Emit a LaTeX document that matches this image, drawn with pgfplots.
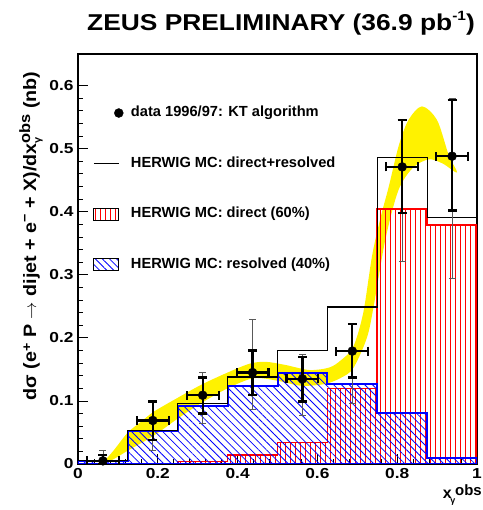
\documentclass[border=0pt]{standalone}
\usepackage{fontspec}
\setmainfont{Liberation Sans}
\newfontfamily\tickf{Liberation Sans}[FakeStretch=1.2]
\newfontfamily\titlef{Liberation Sans}[FakeStretch=1.15]
\newfontfamily\ylabf{Liberation Sans}[FakeStretch=1.1]
\usepackage{pgfplots}
\pgfplotsset{compat=1.18}
\usetikzlibrary{patterns.meta}
\newcommand{\ylf}{\ylabf\fontsize{18}{21}\selectfont\bfseries}
\begin{document}
\begin{tikzpicture}
\useasboundingbox (-78bp,-46bp) rectangle (405bp,464bp);
\begin{axis}[
  scale only axis, width=399bp, height=410bp,
  xmin=0, xmax=1, ymin=0, ymax=0.65,
  axis line style={line width=1.2bp},
  xtick={0,0.2,0.4,0.6,0.8,1}, ytick={0,0.1,0.2,0.3,0.4,0.5,0.6},
  minor x tick num=4, minor y tick num=4,
  tick align=inside, xtick pos=bottom, ytick pos=left,
  major tick length=10bp, minor tick length=5bp,
  tick style={line width=0.8bp, black},
  /pgf/number format/assume math mode=true,
  ticklabel style={font=\tickf\fontsize{14.5}{17}\selectfont\bfseries},
  xticklabel style={yshift=-1bp},
  yticklabel style={xshift=-1bp},
  every axis y label/.style={at={(axis description cs:-0.118,0.556)}, rotate=90, anchor=center},
  ylabel={\ylf d\kern0.5pt σ (e\raisebox{0.55ex}{\fontsize{13}{14}\selectfont +} P $\rightarrow$ dijet + e\raisebox{0.75ex}{\fontsize{13}{14}\selectfont −} + X)/dx\rlap{\raisebox{-0.45ex}{\fontsize{10}{11}\selectfont γ}}\raisebox{0.65ex}{\fontsize{15}{16}\selectfont obs} (nb)},
  legend style={draw=none, fill=none, at={(axis description cs:0.0376,0.873)}, anchor=north west,
    font=\fontsize{14.7}{17}\selectfont\bfseries, row sep=37bp, inner sep=0pt,
    nodes={inner sep=0pt, text height=10.5bp, text depth=3bp},
    /tikz/every odd column/.append style={column sep=7.5bp}},
  legend cell align=left,
]
\addlegendimage{legend image code/.code={\path[draw=none,fill=none] (0bp,-6bp) rectangle (29.5bp,6bp); \fill[black] (25bp,0bp) circle (4.5bp);}}
\addlegendentry{data 1996/97: KT algorithm}
\addlegendimage{legend image code/.code={\path[draw=none,fill=none] (0bp,-6bp) rectangle (29.5bp,6bp); \draw[black, line width=1.2bp] (0bp,0bp) -- (25bp,0bp);}}
\addlegendentry{HERWIG MC: direct+resolved}
\addlegendimage{legend image code/.code={\path[draw=none,fill=none] (0bp,-6bp) rectangle (29.5bp,6bp); \draw[black, line width=0.8bp, pattern={Lines[angle=90,distance=5bp,line width=0.8bp]}, pattern color=red] (0bp,-6bp) rectangle (25bp,6bp);}}
\addlegendentry{HERWIG MC: direct (60\%)}
\addlegendimage{legend image code/.code={\path[draw=none,fill=none] (0bp,-6bp) rectangle (29.5bp,6bp); \draw[black, line width=0.8bp, pattern={Lines[angle=-45,distance=5bp,line width=0.8bp]}, pattern color=blue] (0bp,-6bp) rectangle (25bp,6bp);}}
\addlegendentry{HERWIG MC: resolved (40\%)}

% yellow band
\addplot[fill=yellow, draw=none, smooth, tension=0.5, forget plot] coordinates {
(0.06,0.0) (0.09,0.022) (0.125,0.05) (0.16,0.068) (0.19,0.083) (0.25,0.105) (0.31,0.126) (0.375,0.145) (0.43,0.159) (0.47,0.162) (0.52,0.157) (0.58,0.149) (0.63,0.153) (0.66,0.165) (0.69,0.186) (0.715,0.24) (0.737,0.33) (0.758,0.39) (0.779,0.44) (0.804,0.505) (0.828,0.545) (0.862,0.567) (0.9,0.545) (0.929,0.49) (0.95,0.462)
(0.915,0.476) (0.88,0.483) (0.84,0.47) (0.803,0.434) (0.77,0.355) (0.741,0.25) (0.724,0.2) (0.69,0.152) (0.66,0.137) (0.62,0.127) (0.56,0.124) (0.5,0.132) (0.44,0.136) (0.375,0.12) (0.31,0.097) (0.25,0.072) (0.19,0.045) (0.127,0.022) (0.09,0.008) (0.065,0.001)
} -- cycle;

% direct (red)
\addplot[const plot mark left, draw=red, line width=1.6bp, pattern={Lines[angle=90,distance=5bp,line width=0.8bp]}, pattern color=red, forget plot] coordinates {
(0,0.001) (0.125,0.001) (0.25,0.004) (0.375,0.014) (0.5,0.034) (0.625,0.120) (0.75,0.404) (0.875,0.379) (1,0.379)
} \closedcycle;

% resolved (blue)
\addplot[const plot mark left, draw=blue, line width=2bp, pattern={Lines[angle=-45,distance=5.5bp,line width=0.8bp]}, pattern color=blue, forget plot] coordinates {
(0,0.005) (0.125,0.052) (0.25,0.092) (0.375,0.123) (0.5,0.145) (0.625,0.127) (0.75,0.081) (0.875,0.010) (1,0.010)
} \closedcycle;

% total (black)
\addplot[const plot mark left, draw=black, line width=1.2bp, forget plot] coordinates {
(0,0.005) (0.125,0.053) (0.25,0.096) (0.375,0.138) (0.5,0.180) (0.625,0.249) (0.75,0.4855) (0.875,0.3905) (1,0.3905)
};

% data: outer (thin) errors
\addplot[only marks, mark=none, forget plot, draw=black!65,
  error bars/.cd, y dir=both, y explicit,
  error bar style={line width=0.8bp, black!65},
  error mark options={rotate=90, mark size=3.5bp, line width=0.8bp, black!65}]
table[x=x, y=y, y error plus=ep, y error minus=em] {
x y ep em
0.0625 0.005 0.016 0.005
0.1875 0.069 0.030 0.047
0.3125 0.109 0.036 0.044
0.4375 0.145 0.084 0.058
0.5625 0.135 0.039 0.058
0.6875 0.179 0.044 0.083
0.8125 0.471 0.074 0.150
0.9375 0.488 0.091 0.194
};

% data: inner (thick) errors
\addplot[only marks, mark=*, mark size=4.5bp, mark options={black}, forget plot,
  error bars/.cd, y dir=both, y explicit, x dir=both, x explicit,
  error bar style={line width=2.2bp, black},
  error mark options={rotate=90, mark size=4.5bp, line width=2.2bp, black}]
table[x=x, y=y, x error=ex, y error plus=ep, y error minus=em] {
x y ex ep em
0.0625 0.005 0.04 0.009 0.005
0.1875 0.069 0.04 0.030 0.031
0.3125 0.109 0.04 0.028 0.029
0.4375 0.145 0.04 0.035 0.036
0.5625 0.135 0.04 0.035 0.036
0.6875 0.179 0.04 0.043 0.042
0.8125 0.471 0.04 0.074 0.073
0.9375 0.488 0.04 0.089 0.086
};
\end{axis}
% title and x label
\node[font=\titlef\fontsize{23}{27}\selectfont\bfseries, anchor=center] at (203bp,441bp) {ZEUS PRELIMINARY (36.9 pb\raisebox{0.8ex}{\fontsize{13.5}{15}\selectfont -1})};
\node[font=\fontsize{16}{18}\selectfont\bfseries, anchor=base east, inner sep=0pt] at (404bp,-34bp) {x\kern-1.5bp\raisebox{-0.6ex}{\fontsize{9}{10}\selectfont γ}\raisebox{0.3ex}{\fontsize{15}{17}\selectfont obs}};
\end{tikzpicture}
\end{document}
